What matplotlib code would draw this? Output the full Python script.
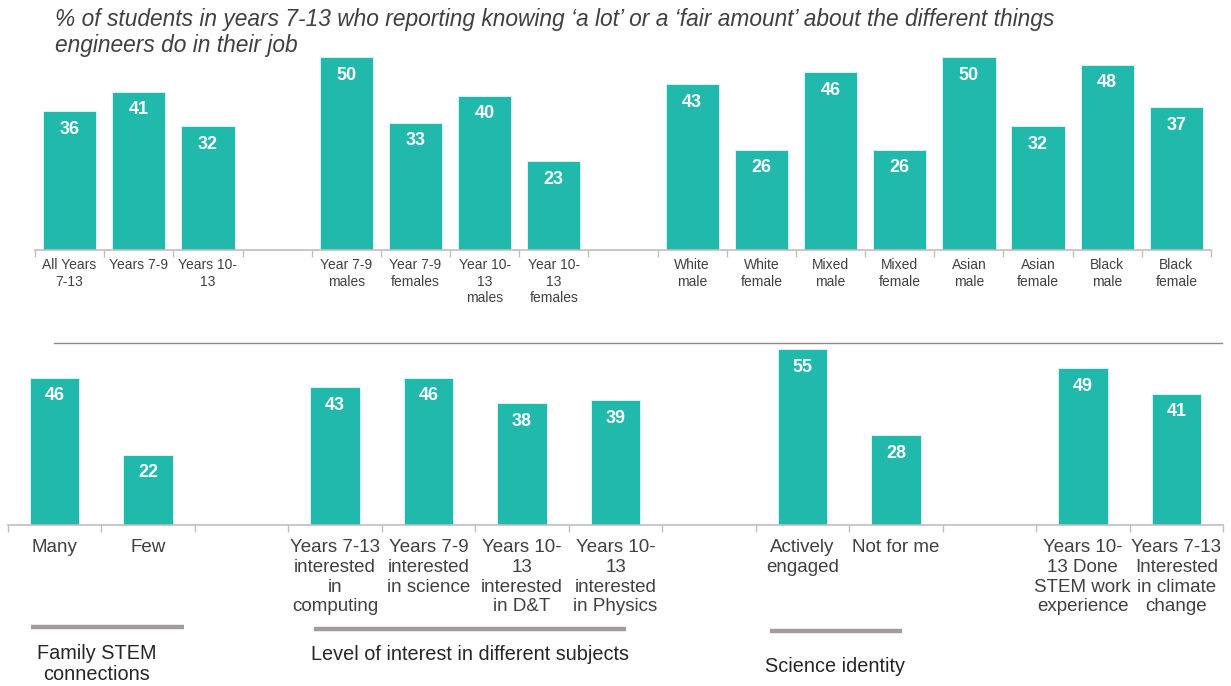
import numpy as np
import matplotlib
matplotlib.use("Agg")
import matplotlib.pyplot as plt
from matplotlib.lines import Line2D
from matplotlib.ticker import FixedLocator

plt.rcParams['font.family'] = ['Liberation Sans', 'DejaVu Sans']

# top row: year groups, year x gender, ethnicity x gender
year_labels = ["All Years\n7-13", "Years 7-9", "Years 10-\n13"]
year_values = [36, 41, 32]
gender_labels = ["Year 7-9\nmales", "Year 7-9\nfemales", "Year 10-\n13\nmales", "Year 10-\n13\nfemales"]
gender_values = [50, 33, 40, 23]
ethnic_labels = ["White\nmale", "White\nfemale", "Mixed\nmale", "Mixed\nfemale",
                 "Asian\nmale", "Asian\nfemale", "Black\nmale", "Black\nfemale"]
ethnic_values = [43, 26, 46, 26, 50, 32, 48, 37]

# bottom row
family_labels = ["Many", "Few"]
family_values = [46, 22]
subject_labels = ["Years 7-13\ninterested\nin\ncomputing", "Years 7-9\ninterested\nin science",
                  "Years 10-\n13\ninterested\nin D&T", "Years 10-\n13\ninterested\nin Physics"]
subject_values = [43, 46, 38, 39]
identity_labels = ["Actively\nengaged", "Not for me"]
identity_values = [55, 28]
other_labels = ["Years 10-\n13 Done\nSTEM work\nexperience", "Years 7-13\nInterested\nin climate\nchange"]
other_values = [49, 41]

group_names = ["Family STEM\nconnections", "Level of interest in different subjects", "Science identity"]

TEAL = "#21b9ac"
TEXT = "#404040"
AXIS = "#bfbfbf"


def lay_out(groups):
    """Put groups side by side with one empty slot between them."""
    xs, vals, labs = [], [], []
    pos = 0
    for labels, values in groups:
        for lab, v in zip(labels, values):
            xs.append(pos)
            vals.append(v)
            labs.append(lab)
            pos += 1
        pos += 1
    return np.array(xs), vals, labs, pos - 1


def draw_row(ax, groups, width, ymax, tick_size, val_size, pad, spacing):
    xs, vals, labs, n = lay_out(groups)
    ax.bar(xs, vals, width=width, color=TEAL, edgecolor="#e8f7f5", linewidth=0.6, zorder=2)
    for x, v in zip(xs, vals):
        ax.annotate(str(v), (x, v), xytext=(0, -13), textcoords="offset points",
                    ha="center", va="center", color="white", fontsize=val_size,
                    fontweight="bold")
    ax.set_xlim(-0.5, n - 0.5)
    ax.set_ylim(0, ymax)
    ax.set_xticks(xs)
    ax.set_xticklabels(labs, linespacing=spacing)
    ax.xaxis.set_minor_locator(FixedLocator(np.arange(-0.5, n, 1)))
    ax.tick_params(axis="x", which="major", length=0, pad=pad, labelsize=tick_size, labelcolor=TEXT)
    ax.tick_params(axis="x", which="minor", length=5, color=AXIS, width=1)
    ax.set_yticks([])
    for s in ["top", "left", "right"]:
        ax.spines[s].set_visible(False)
    ax.spines["bottom"].set_color(AXIS)
    ax.spines["bottom"].set_linewidth(1.2)
    return xs


fig = plt.figure(figsize=(12.31, 6.86), dpi=100)
W, H = 1231, 686

ax1 = fig.add_axes([35 / W, 1 - 250 / H, 1176 / W, 193 / H])
draw_row(ax1, [(year_labels, year_values), (gender_labels, gender_values),
               (ethnic_labels, ethnic_values)],
         width=0.77, ymax=50, tick_size=10, val_size=13, pad=6, spacing=1.2)

ax2 = fig.add_axes([8 / W, 1 - 525 / H, 1215 / W, 176 / H])
draw_row(ax2, [(family_labels, family_values), (subject_labels, subject_values),
               (identity_labels, identity_values), (other_labels, other_values)],
         width=0.53, ymax=55, tick_size=13.5, val_size=13, pad=10, spacing=1.22)

# divider between the two rows
fig.add_artist(Line2D([54 / W, 1222 / W], [1 - 343 / H] * 2, color="#8c8c8c", lw=1))

# group brackets under the bottom row
trans = ax2.get_xaxis_transform()
brackets = [(-0.25, 1.38, 627), (2.77, 6.11, 629), (7.65, 9.07, 631)]
name_pos = [(0.45, 664), (4.44, 655), (8.35, 666)]
for (x0, x1, yp), name, (xc, yc) in zip(brackets, group_names, name_pos):
    yb = (525 - yp) / 176
    ax2.add_line(Line2D([x0, x1], [yb, yb], transform=trans, color="#a39b9b", lw=3.2,
                        clip_on=False, solid_capstyle="butt"))
    ax2.text(xc, (525 - yc) / 176, name, transform=trans, ha="center", va="center",
             fontsize=14.3, color="#262626", linespacing=1.12, clip_on=False)

fig.text(55 / W, 1 - 8 / H,
         "% of students in years 7-13 who reporting knowing \u2018a lot\u2019 or a \u2018fair amount\u2019 "
         "about the different things\nengineers do in their job",
         ha="left", va="top", fontsize=16.4, style="italic", color=TEXT, linespacing=1.17)

fig.savefig("out.png", dpi=100, facecolor="white")
